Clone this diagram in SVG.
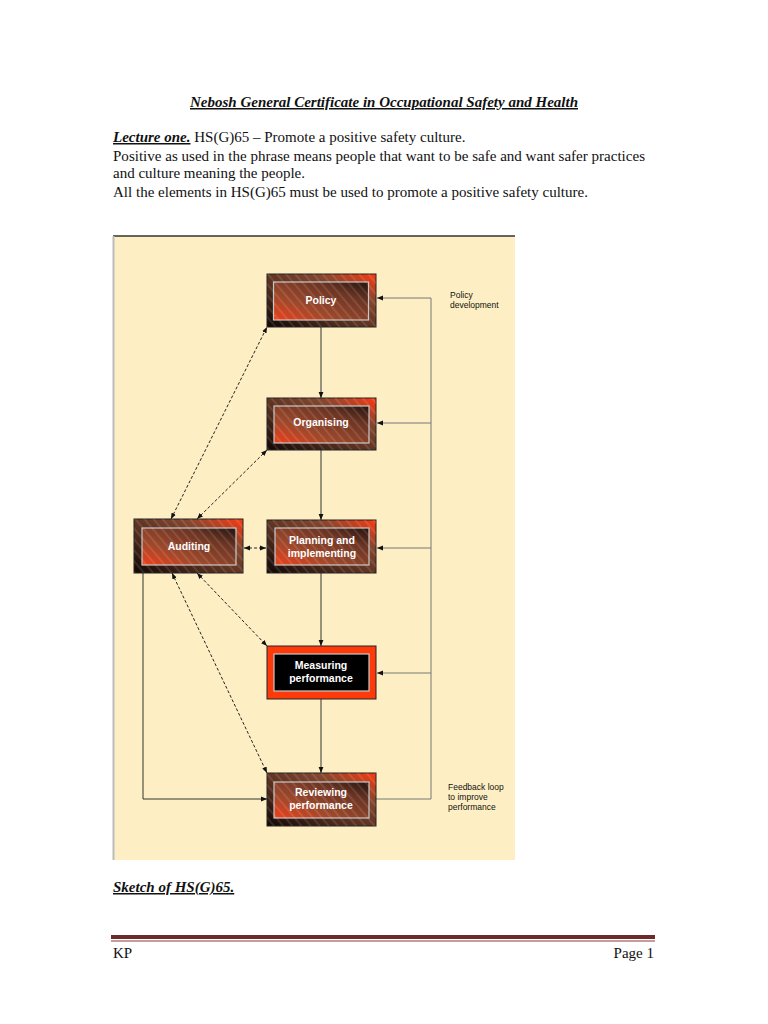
<svg xmlns="http://www.w3.org/2000/svg" width="768" height="1024" viewBox="0 0 768 1024">
<style>
.doc{font-family:"Liberation Serif","Times New Roman",serif;font-size:15px;fill:#111}
.bi{font-weight:bold;font-style:italic;text-decoration:underline}
.lbl{font-family:"Liberation Sans",Arial,sans-serif;font-size:10.5px;font-weight:bold;fill:#fff;text-anchor:middle}
.note{font-family:"Liberation Sans",Arial,sans-serif;font-size:8.5px;fill:#111}
.outer{stroke:#222;stroke-width:1}
.inner{stroke:#c8c8c8;stroke-width:1.2}
.con{stroke:#333;stroke-width:1;fill:none}
.fb{stroke:#777;stroke-width:1;fill:none}
.dash{stroke:#222;stroke-width:1;fill:none;stroke-dasharray:3 2}
</style>
<defs>
<linearGradient id="gOut" x1="0" y1="1" x2="1" y2="0">
<stop offset="0" stop-color="#100704"/>
<stop offset="0.35" stop-color="#4e2a1c"/>
<stop offset="0.72" stop-color="#84462e"/>
<stop offset="1" stop-color="#ff3a10"/>
</linearGradient>
<linearGradient id="gIn" x1="0" y1="1" x2="1" y2="0">
<stop offset="0" stop-color="#f0401a"/>
<stop offset="0.35" stop-color="#9c482b"/>
<stop offset="0.72" stop-color="#6c3524"/>
<stop offset="1" stop-color="#24130d"/>
</linearGradient>
<pattern id="hatch" patternUnits="userSpaceOnUse" width="7" height="7" patternTransform="rotate(-40)">
<line x1="1" y1="0" x2="1" y2="7" stroke="#fff" stroke-opacity="0.35" stroke-width="0.6"/>
</pattern>
<marker id="ah" viewBox="0 0 10 10" refX="10" refY="5" markerWidth="6" markerHeight="6" orient="auto-start-reverse">
<path d="M0,1 L10,5 L0,9 z" fill="#111"/>
</marker>
</defs>

<rect width="768" height="1024" fill="#fff"/>

<g id="header" class="doc">
<text x="190" y="107" class="bi" textLength="388" lengthAdjust="spacingAndGlyphs">Nebosh General Certificate in Occupational Safety and Health</text>
<text x="113" y="142"><tspan class="bi">Lecture one.</tspan> HS(G)65 – Promote a positive safety culture.</text>
<text x="113" y="161" textLength="532" lengthAdjust="spacingAndGlyphs">Positive as used in the phrase means people that want to be safe and want safer practices</text>
<text x="113" y="178">and culture meaning the people.</text>
<text x="113" y="197" textLength="475" lengthAdjust="spacingAndGlyphs">All the elements in HS(G)65 must be used to promote a positive safety culture.</text>
<text x="113" y="892" class="bi">Sketch of HS(G)65.</text>
</g>

<g id="footer">
<rect x="111" y="935" width="544" height="4" fill="#6e2a2a"/>
<line x1="111" y1="941" x2="655" y2="941" stroke="#8b3a3a" stroke-width="1"/>
<text x="113" y="958" class="doc">KP</text>
<text x="654" y="958" class="doc" text-anchor="end">Page 1</text>
</g>

<g id="panel">
<rect x="113" y="236" width="402" height="624" fill="#fdefc3"/>
<line x1="113" y1="236" x2="515" y2="236" stroke="#333" stroke-width="1.5"/>
<line x1="113.5" y1="236" x2="113.5" y2="860" stroke="#bbb" stroke-width="2"/>
</g>

<g id="connectors">
<line class="con" x1="321" y1="327" x2="321" y2="398" marker-end="url(#ah)"/>
<line class="con" x1="321" y1="450" x2="321" y2="520" marker-end="url(#ah)"/>
<line class="con" x1="321" y1="573" x2="321" y2="646" marker-end="url(#ah)"/>
<line class="con" x1="321" y1="699" x2="321" y2="773" marker-end="url(#ah)"/>
<path class="fb" d="M376,799 H431 V298"/>
<line class="fb" x1="431" y1="298" x2="377" y2="298" marker-end="url(#ah)"/>
<line class="fb" x1="431" y1="423" x2="377" y2="423" marker-end="url(#ah)"/>
<line class="fb" x1="431" y1="548" x2="377" y2="548" marker-end="url(#ah)"/>
<line class="fb" x1="431" y1="673" x2="377" y2="673" marker-end="url(#ah)"/>
<path class="con" d="M143,573 V799 H267" marker-end="url(#ah)"/>
<line class="dash" x1="171" y1="519" x2="267" y2="327" marker-start="url(#ah)" marker-end="url(#ah)"/>
<line class="dash" x1="197" y1="519" x2="267" y2="450" marker-start="url(#ah)" marker-end="url(#ah)"/>
<line class="dash" x1="244" y1="548" x2="266" y2="548" marker-start="url(#ah)" marker-end="url(#ah)"/>
<line class="dash" x1="172" y1="573" x2="267" y2="773" marker-start="url(#ah)" marker-end="url(#ah)"/>
<line class="dash" x1="197" y1="573" x2="267" y2="646" marker-start="url(#ah)" marker-end="url(#ah)"/>
</g>

<g id="policy">
<rect class="outer" x="267" y="274" width="109" height="53" fill="url(#gOut)"/>
<rect x="267" y="274" width="109" height="53" fill="url(#hatch)"/>
<rect class="inner" x="273.5" y="282" width="95" height="38" fill="url(#gIn)"/>
<rect x="273.5" y="282" width="95" height="38" fill="url(#hatch)"/>
<text class="lbl" x="321" y="304">Policy</text>
</g>

<g id="organising">
<rect class="outer" x="267" y="398" width="109" height="52" fill="url(#gOut)"/>
<rect x="267" y="398" width="109" height="52" fill="url(#hatch)"/>
<rect class="inner" x="274" y="406" width="95" height="37" fill="url(#gIn)"/>
<rect x="274" y="406" width="95" height="37" fill="url(#hatch)"/>
<text class="lbl" x="321" y="426">Organising</text>
</g>

<g id="planning">
<rect class="outer" x="267" y="520" width="109" height="53" fill="url(#gOut)"/>
<rect x="267" y="520" width="109" height="53" fill="url(#hatch)"/>
<rect class="inner" x="275" y="528" width="94" height="37" fill="url(#gIn)"/>
<rect x="275" y="528" width="94" height="37" fill="url(#hatch)"/>
<text class="lbl" x="322" y="544">Planning and</text>
<text class="lbl" x="322" y="556.5">implementing</text>
</g>

<g id="auditing">
<rect class="outer" x="134" y="519" width="109" height="54" fill="url(#gOut)"/>
<rect x="134" y="519" width="109" height="54" fill="url(#hatch)"/>
<rect class="inner" x="142" y="528" width="94" height="37" fill="url(#gIn)"/>
<rect x="142" y="528" width="94" height="37" fill="url(#hatch)"/>
<text class="lbl" x="189" y="550">Auditing</text>
</g>

<g id="measuring">
<rect class="outer" x="267" y="646" width="109" height="53" fill="#ff3a0a"/>
<rect class="inner" x="274" y="654" width="95" height="37" fill="#000"/>
<text class="lbl" x="321" y="669">Measuring</text>
<text class="lbl" x="321" y="682">performance</text>
</g>

<g id="reviewing">
<rect class="outer" x="267" y="773" width="109" height="53" fill="url(#gOut)"/>
<rect x="267" y="773" width="109" height="53" fill="url(#hatch)"/>
<rect class="inner" x="274" y="782" width="95" height="36" fill="url(#gIn)"/>
<rect x="274" y="782" width="95" height="36" fill="url(#hatch)"/>
<text class="lbl" x="321" y="796">Reviewing</text>
<text class="lbl" x="321" y="809">performance</text>
</g>

<g id="notes" class="note">
<text x="450" y="298">Policy</text>
<text x="450" y="308">development</text>
<text x="448" y="790">Feedback loop</text>
<text x="448" y="800">to improve</text>
<text x="448" y="810">performance</text>
</g>
</svg>
